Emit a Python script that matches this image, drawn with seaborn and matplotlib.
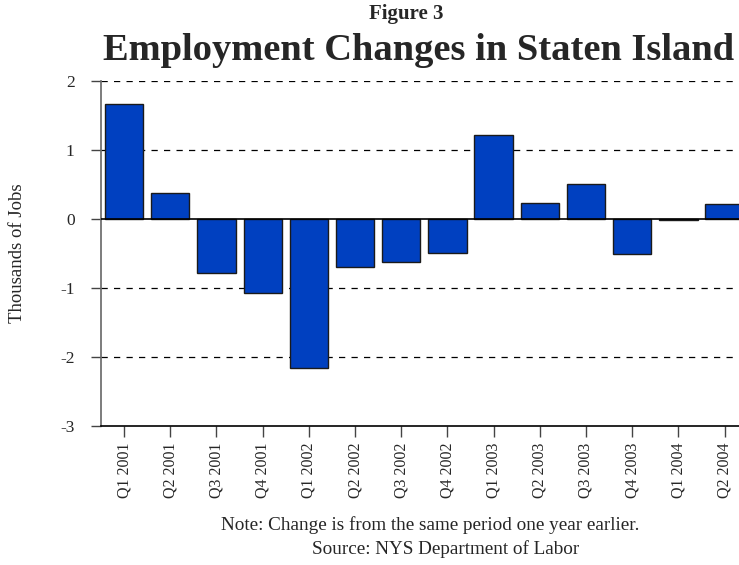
"""
Figure 3: Employment changes in Staten Island (bar chart).
"""

import matplotlib
matplotlib.use("Agg")
import matplotlib.pyplot as plt
import seaborn as sns
import pandas as pd

quarters = ["Q1 2001", "Q2 2001", "Q3 2001", "Q4 2001",
            "Q1 2002", "Q2 2002", "Q3 2002", "Q4 2002",
            "Q1 2003", "Q2 2003", "Q3 2003", "Q4 2003",
            "Q1 2004", "Q2 2004"]
changes = [1.67, 0.38, -0.79, -1.07,
           -2.16, -0.70, -0.62, -0.49,
           1.21, 0.23, 0.50, -0.51,
           -0.02, 0.22]
y_ticks = [-3, -2, -1, 0, 1, 2]

sns.set_style("white")
plt.rcParams["font.family"] = ["Liberation Serif", "DejaVu Serif"]

df = pd.DataFrame({"quarter": quarters, "change": changes})

fig = plt.figure(figsize=(7.39, 5.65), dpi=100)
ax = fig.add_axes([0.1367, 0.246, 0.875, 0.611])

# dashed grid behind bars
for v in y_ticks[1:]:
    if v == 0:
        continue
    ax.axhline(v, color="black", linestyle=(0, (5, 5)), linewidth=0.9, zorder=0)

sns.barplot(data=df, x="quarter", y="change", color="#0040C0", saturation=1,
            edgecolor="#1a1a1a", linewidth=1.0, width=0.83, ax=ax, zorder=2)
ax.axhline(0, color="black", linewidth=1.2, zorder=3)

ax.set_ylim(-3, 2)
ax.set_xlim(-0.5, len(quarters) - 0.5)
ax.set_yticks(y_ticks)
ax.set_yticklabels([str(v) for v in y_ticks], fontsize=12.5)
ax.set_xticks(range(len(quarters)))
ax.set_xticklabels(quarters, rotation=90, fontsize=11.5)
ax.tick_params(axis="x", direction="out", length=8, width=1, color="#444444", pad=4, bottom=True)
ax.tick_params(axis="y", direction="out", length=7, width=1, color="#444444", pad=12, left=True)

ax.set_xlabel("")
ax.set_ylabel("Thousands of Jobs", fontsize=13.5)
ax.yaxis.set_label_coords(-0.116, 0.5)

for side in ["top", "right"]:
    ax.spines[side].set_visible(False)
ax.spines["left"].set_color("#666666")
ax.spines["left"].set_linewidth(1.2)
ax.spines["bottom"].set_color("black")
ax.spines["bottom"].set_linewidth(1.2)

fig.text(0.55, 0.976, "Figure 3", ha="center", va="center", fontsize=15, fontweight="bold")
fig.text(0.566, 0.91, "Employment Changes in Staten Island", ha="center", va="center",
         fontsize=27.7, fontweight="bold")
fig.text(0.582, 0.071, "Note: Change is from the same period one year earlier.",
         ha="center", va="center", fontsize=13.8)
fig.text(0.6035, 0.029, "Source: NYS Department of Labor", ha="center", va="center", fontsize=13.8)

fig.savefig("out.png", dpi=100)
plt.close(fig)
